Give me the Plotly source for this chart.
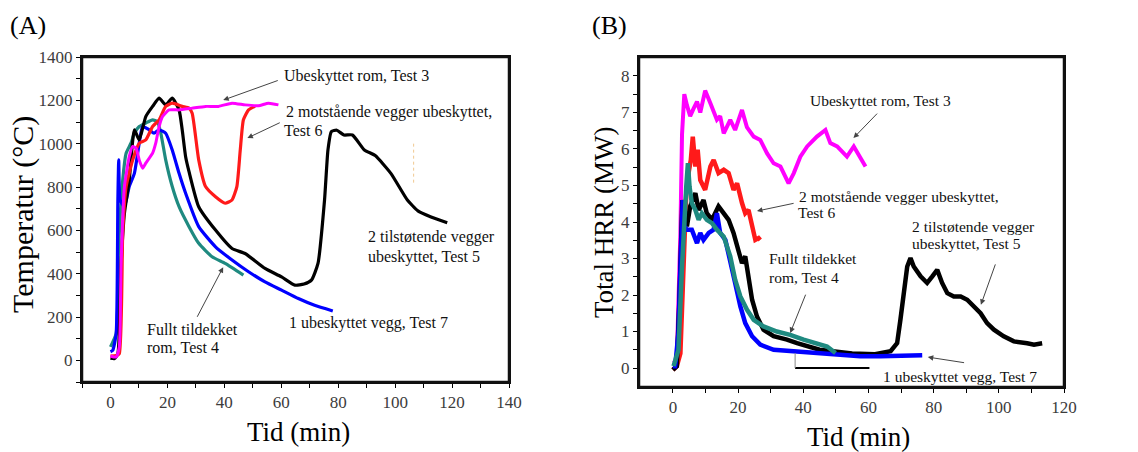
import plotly.graph_objects as go

# ---------------- Panel A: Temperature (°C) vs time (min) ----------------
a_t3_t = [0, 2.0, 3.1, 3.7, 4.9, 6.6, 7.8, 9.0, 10.1, 11.3, 12.4, 14.8, 15.9, 17.1, 18.3, 20.6, 24.1, 28.7, 33.4, 38.0, 42.7, 47.3, 52.0, 55.5, 59.0]
a_t3_v = [20, 15, 62, 432, 802, 940, 987, 979, 925, 887, 910, 956, 1002, 1079, 1125, 1156, 1156, 1164, 1172, 1172, 1187, 1179, 1175, 1187, 1179]

a_t6_t = [0, 2.0, 3.1, 4.3, 5.5, 7.8, 10.1, 12.4, 14.8, 17.1, 19.4, 21.7, 25.2, 27.6, 28.7, 31.0, 33.4, 36.9, 40.3, 42.7, 44.4, 45.6, 46.7, 48.5, 50.8]
a_t6_v = [20, 22, 31, 586, 802, 925, 1002, 1017, 1079, 1110, 1172, 1187, 1172, 1164, 1140, 925, 802, 755, 725, 740, 802, 971, 1110, 1156, 1172]

a_t5_t = [0, 1.4, 2.6, 3.7, 4.9, 6.6, 8.4, 10.1, 12.4, 14.8, 17.1, 19.4, 21.7, 24.1, 25.2, 26.4, 27.6, 31.0, 36.9, 42.7, 47.3, 54.3, 60.1, 64.8, 68.0, 70.6, 72.9, 75.2, 76.4, 77.6, 79.5, 82.0, 85.0, 89.2, 93.0, 98.5, 104.3, 108.0, 112.4, 118.3]
a_t5_v = [10, 8, 31, 432, 678, 832, 1064, 1017, 1125, 1172, 1210, 1179, 1210, 1156, 1064, 940, 871, 709, 601, 516, 493, 424, 385, 347, 352, 370, 447, 740, 971, 1056, 1062, 1040, 1040, 971, 945, 863, 740, 690, 663, 635]

a_t7_t = [0, 0.8, 2.0, 2.6, 2.9, 3.4, 4.9, 6.6, 8.4, 10.1, 11.3, 13.6, 15.3, 17.1, 19.4, 21.7, 24.1, 26.4, 31.0, 36.9, 42.7, 48.5, 54.3, 60.1, 66.0, 71.7, 78.1]
a_t7_v = [40, 46, 123, 740, 925, 740, 709, 802, 863, 1002, 1079, 1064, 1048, 1064, 1048, 971, 863, 771, 617, 524, 463, 409, 362, 324, 285, 254, 228]

a_t4_t = [0, 2.0, 3.1, 4.3, 5.5, 7.2, 8.4, 10.1, 12.4, 14.8, 16.5, 17.7, 19.4, 21.7, 24.1, 27.6, 31.0, 35.7, 40.3, 46.7]
a_t4_v = [62, 123, 586, 832, 956, 1002, 1048, 1079, 1095, 1110, 1102, 1048, 925, 802, 709, 617, 540, 478, 447, 393]

# ---------------- Panel B: Total HRR (MW) vs time (min) ----------------
b_t3_t = [0, 0.2, 1.2, 2.3, 2.8, 3.5, 4.3, 5.3, 6.3, 7.4, 8.4, 9.9, 11.5, 12.5, 13.5, 14.5, 15.6, 17.6, 19.1, 21.2, 22.7, 24.8, 26.8, 28.9, 30.9, 33.0, 35.5, 37.1, 39.1, 41.2, 44.2, 46.8, 48.3, 50.4, 53.4, 55.5, 57.5, 59.1]
b_t3_v = [0.15, 0.14, 0.23, 3.7, 6.4, 7.5, 7.2, 6.9, 7.1, 7.3, 7.0, 7.6, 7.25, 7.0, 6.8, 6.9, 6.43, 6.8, 6.52, 7.07, 6.6, 6.34, 6.25, 5.88, 5.61, 5.52, 5.06, 5.34, 5.79, 6.07, 6.34, 6.52, 6.16, 6.07, 5.79, 6.07, 5.79, 5.52]

b_t6_t = [0, 1.2, 2.3, 3.3, 4.1, 4.8, 5.5, 6.1, 6.9, 7.6, 8.4, 9.9, 11.5, 12.5, 14.0, 15.6, 17.1, 18.6, 19.7, 21.2, 22.2, 23.2, 24.3, 25.3, 26.3, 26.8]
b_t6_v = [-0.05, 0.05, 0.4, 2.78, 4.79, 5.34, 5.7, 6.34, 5.52, 5.98, 5.15, 4.88, 5.52, 5.7, 5.34, 5.43, 5.34, 4.88, 5.06, 4.52, 4.24, 4.33, 3.88, 3.51, 3.56, 3.51]

b_t5_t = [0, 1.2, 2.0, 2.5, 2.9, 3.5, 4.3, 5.3, 6.9, 7.9, 9.4, 10.4, 12.0, 14.0, 15.6, 17.1, 18.6, 20.2, 21.2, 22.2, 23.2, 24.3, 25.8, 27.8, 30.9, 35.0, 38.1, 45.0, 55.0, 62.0, 66.8, 68.8, 69.8, 70.9, 71.9, 72.9, 73.9, 76.0, 78.0, 79.6, 81.1, 82.6, 84.2, 86.2, 88.3, 90.3, 92.4, 94.4, 96.4, 98.5, 101.5, 104.6, 108.7, 110.8, 113.3]
b_t5_v = [-0.05, 0.05, 1.87, 3.7, 4.6, 4.24, 3.88, 4.43, 4.79, 4.33, 4.6, 4.24, 4.06, 4.43, 4.24, 4.06, 3.7, 3.15, 2.87, 3.06, 2.42, 1.87, 1.41, 1.05, 0.87, 0.78, 0.68, 0.5, 0.4, 0.38, 0.46, 0.68, 1.32, 2.14, 2.78, 3.01, 2.78, 2.51, 2.33, 2.51, 2.69, 2.33, 2.05, 1.96, 1.96, 1.87, 1.69, 1.5, 1.23, 1.05, 0.87, 0.73, 0.68, 0.64, 0.68]

b_t7_t = [0, 0.7, 1.7, 2.5, 3.0, 3.5, 4.3, 5.8, 7.4, 8.4, 9.4, 11.0, 12.5, 13.5, 14.5, 16.1, 17.6, 19.1, 20.7, 22.2, 24.3, 26.8, 30.9, 37.1, 43.2, 49.3, 57.5, 63.7, 70.9, 76.5]
b_t7_v = [0.05, 0.05, 0.96, 3.24, 4.6, 3.88, 3.79, 3.79, 3.42, 3.7, 3.51, 3.7, 3.79, 4.24, 3.7, 3.51, 2.97, 2.33, 1.69, 1.23, 0.87, 0.64, 0.5, 0.46, 0.41, 0.36, 0.32, 0.32, 0.34, 0.35]

b_t4_t = [0.2, 1.7, 2.8, 3.5, 4.1, 4.6, 5.1, 5.8, 6.9, 7.9, 8.9, 10.4, 12.0, 13.5, 15.6, 17.6, 19.1, 20.7, 22.7, 24.8, 27.8, 31.9, 36.0, 40.1, 44.2, 47.3, 49.9]
b_t4_v = [0.05, 0.5, 2.78, 4.15, 4.97, 5.61, 4.97, 4.52, 4.33, 4.06, 4.24, 4.06, 3.97, 3.79, 3.6, 3.06, 2.42, 1.96, 1.6, 1.32, 1.14, 1.0, 0.91, 0.78, 0.68, 0.59, 0.41]

# Tick values (major labelled, minor unlabelled) and axis ranges
a_xticks = [-10, 0, 10, 20, 30, 40, 50, 60, 70, 80, 90, 100, 110, 120, 130, 140]
a_xlabels = ["", "0", "", "20", "", "40", "", "60", "", "80", "", "100", "", "120", "", "140"]
a_yticks = [-100, 0, 100, 200, 300, 400, 500, 600, 700, 800, 900, 1000, 1100, 1200, 1300, 1400]
a_ylabels = ["", "0", "", "200", "", "400", "", "600", "", "800", "", "1000", "", "1200", "", "1400"]
b_xticks = [0, 10, 20, 30, 40, 50, 60, 70, 80, 90, 100, 110, 120]
b_xlabels = ["0", "", "20", "", "40", "", "60", "", "80", "", "100", "", "120"]
b_yticks = [0, 0.5, 1, 1.5, 2, 2.5, 3, 3.5, 4, 4.5, 5, 5.5, 6, 6.5, 7, 7.5, 8]
b_ylabels = ["0", "", "1", "", "2", "", "3", "", "4", "", "5", "", "6", "", "7", "", "8"]
A_XR, A_YR = [-10, 140], [-100, 1400]
B_XR, B_YR = [-10.4, 120], [-0.52, 8.52]

BLACK = "#000000"
RED = "#ff1a1a"
MAGENTA = "#ff00ff"
BLUE = "#0000ff"
TEAL = "#1f8a80"
SERIF = "Liberation Serif"
W, H = 1138, 452

BOX_A = (82, 57, 509, 382)
BOX_B = (639, 57, 1064, 387)

fig = go.Figure()

def addA(t, v, color, w=3.2):
    fig.add_trace(go.Scatter(x=t, y=v, mode="lines", line=dict(color=color, width=w, shape="spline", smoothing=0.5),
                             xaxis="x", yaxis="y", showlegend=False, hoverinfo="skip"))

def addB(t, v, color, w=4.5):
    fig.add_trace(go.Scatter(x=t, y=v, mode="lines", line=dict(color=color, width=w),
                             xaxis="x2", yaxis="y2", showlegend=False, hoverinfo="skip"))

addA(a_t4_t, a_t4_v, TEAL)
addA(a_t7_t, a_t7_v, BLUE)
addA(a_t5_t, a_t5_v, BLACK)
addA(a_t6_t, a_t6_v, RED)
addA(a_t3_t, a_t3_v, MAGENTA, 3.0)

addB(b_t3_t, b_t3_v, MAGENTA, 4)
addB(b_t6_t, b_t6_v, RED)
addB(b_t5_t, b_t5_v, BLACK)
addB(b_t7_t, b_t7_v, BLUE)
addB(b_t4_t, b_t4_v, TEAL)

tickfont = dict(family=SERIF, size=17, color="#3c3c3c")

def axis(domain, rng, anchor, vals, labels):
    return dict(domain=domain, range=rng, anchor=anchor, tickmode="array", tickvals=vals, ticktext=labels,
                automargin=False, showgrid=False, zeroline=False, showline=True, linecolor="#111111",
                linewidth=2, mirror=True, ticks="outside", ticklen=4, tickwidth=1.2, tickcolor="#000",
                tickfont=tickfont)

fig.update_layout(
    width=W, height=H, margin=dict(l=0, r=0, t=0, b=0, autoexpand=False),
    paper_bgcolor="white", plot_bgcolor="white",
    xaxis=axis([BOX_A[0] / W, BOX_A[2] / W], A_XR, "y", a_xticks, a_xlabels),
    yaxis=axis([1 - BOX_A[3] / H, 1 - BOX_A[1] / H], A_YR, "x", a_yticks, a_ylabels),
    xaxis2=axis([BOX_B[0] / W, BOX_B[2] / W], B_XR, "y2", b_xticks, b_xlabels),
    yaxis2=axis([1 - BOX_B[3] / H, 1 - BOX_B[1] / H], B_YR, "x2", b_yticks, b_ylabels),
)

ann = []
def text(x, y, s, xr, yr, size=16):
    ann.append(dict(x=x, y=y, xref=xr, yref=yr, text=s, showarrow=False, xanchor="left", yanchor="middle",
                    font=dict(family=SERIF, size=size, color="#111")))

def arrow(x0, y0, x1, y1, xr, yr):
    ann.append(dict(x=x1, y=y1, ax=x0, ay=y0, xref=xr, yref=yr, axref=xr, ayref=yr, text="", showarrow=True,
                    arrowhead=2, arrowsize=1.1, arrowwidth=1, arrowcolor="#444"))

def paper_text(px, py, s, size, angle=0, anchor="center"):
    ann.append(dict(x=px / W, y=1 - py / H, xref="paper", yref="paper", text=s, showarrow=False,
                    textangle=angle, xanchor=anchor, yanchor="middle",
                    font=dict(family=SERIF, size=size, color="#000")))

# Panel A labels
text(60.4, 1312, "Ubeskyttet rom, Test 3", "x", "y")
text(61.0, 1146, "2 motstående vegger ubeskyttet,", "x", "y")
text(60.3, 1063, "Test 6", "x", "y")
text(89.8, 568, "2 tilstøtende vegger", "x", "y")
text(89.8, 476, "ubeskyttet, Test 5", "x", "y")
text(62.1, 171, "1 ubeskyttet vegg, Test 7", "x", "y")
text(12.3, 143, "Fullt tildekket", "x", "y")
text(12.3, 60, "rom, Test 4", "x", "y")
arrow(59.3, 1294, 39.6, 1201, "x", "y")
arrow(60.0, 1100, 48.1, 1026, "x", "y")
arrow(30.2, 194, 39.6, 430, "x", "y")

# Panel B labels
text(41.5, 7.34, "Ubeskyttet rom, Test 3", "x2", "y2", 15.5)
text(38.2, 4.71, "2 motstående vegger ubeskyttet,", "x2", "y2", 15.5)
text(37.9, 4.25, "Test 6", "x2", "y2", 15.5)
text(28.9, 3.01, "Fullt tildekket", "x2", "y2", 15.5)
text(28.9, 2.49, "rom, Test 4", "x2", "y2", 15.5)
text(72.6, 3.89, "2 tilstøtende vegger", "x2", "y2", 15.5)
text(72.6, 3.40, "ubeskyttet, Test 5", "x2", "y2", 15.5)
text(64.0, -0.22, "1 ubeskyttet vegg, Test 7", "x2", "y2", 15.5)
arrow(63.1, 7.01, 55.4, 6.30, "x2", "y2")
arrow(37.5, 4.52, 25.8, 4.30, "x2", "y2")
arrow(40.9, 2.05, 36.0, 0.96, "x2", "y2")
arrow(99.1, 2.88, 94.5, 1.73, "x2", "y2")
arrow(89.8, 0.14, 78.2, 0.30, "x2", "y2")

# Panel titles and axis titles
paper_text(8, 26, "(A)", 26, anchor="left")
paper_text(590, 26, "(B)", 26, anchor="left")
paper_text(298, 432, "Tid (min)", 27)
paper_text(858, 437, "Tid (min)", 27)
paper_text(23, 215, "Temperatur (°C)", 30, angle=-90)
paper_text(604, 222, "Total HRR (MW)", 27, angle=-90)

fig.update_layout(annotations=ann)

def frame(box):
    l, t, r, b = box
    return dict(type="rect", xref="paper", yref="paper", x0=l / W, x1=r / W, y0=1 - b / H, y1=1 - t / H,
                line=dict(color="#111111", width=2.5))

shapes = [
    frame(BOX_A),
    frame(BOX_B),
    dict(type="line", xref="x2", yref="y2", x0=37.5, x1=60.3, y0=0, y1=0, line=dict(color="#000", width=2)),
    dict(type="line", xref="x2", yref="y2", x0=37.5, x1=37.5, y0=0, y1=0.41, line=dict(color="#888", width=1)),
    dict(type="line", xref="x", yref="y", x0=106.5, x1=106.5, y0=820, y1=1010, line=dict(color="#f0c890", width=1, dash="dot")),
]
fig.update_layout(shapes=shapes)

fig.write_html("out.html")
